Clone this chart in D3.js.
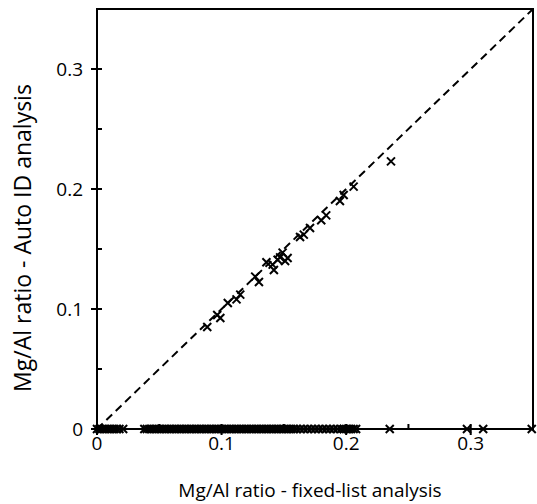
<!DOCTYPE html>
<html>
<head>
<meta charset="utf-8">
<script src="https://cdn.jsdelivr.net/npm/d3@7"></script>
<style>
  body { margin: 0; background: #fff; }
  text { font-family: "Open Sans", "DejaVu Sans", sans-serif; fill: #000; }
</style>
</head>
<body>
<div class="scatter"></div>
<script>
//Data
var diagX = [0.0885, 0.0965, 0.099, 0.105, 0.112, 0.115, 0.127, 0.130, 0.136, 0.141, 0.142, 0.145,
             0.147, 0.149, 0.151, 0.153, 0.163, 0.166, 0.171, 0.180, 0.184, 0.195, 0.198, 0.206, 0.236];
var diagY = [0.085, 0.095, 0.0925, 0.105, 0.108, 0.112, 0.127, 0.1225, 0.139, 0.137, 0.1325, 0.141,
             0.143, 0.147, 0.140, 0.1425, 0.160, 0.162, 0.1675, 0.174, 0.178, 0.190, 0.195, 0.202, 0.223];
var zeroX = [0, 0.002, 0.004, 0.006, 0.008, 0.01, 0.012, 0.014, 0.016, 0.018, 0.021,
             0.038, 0.040, 0.042, 0.044, 0.046, 0.048, 0.050, 0.052, 0.054, 0.056, 0.058, 0.060,
             0.062, 0.064, 0.066, 0.068, 0.070, 0.072, 0.074, 0.076, 0.078, 0.080, 0.082, 0.084,
             0.086, 0.088, 0.090, 0.092, 0.094, 0.096, 0.098, 0.100, 0.102, 0.104, 0.106, 0.108,
             0.110, 0.112, 0.114, 0.116, 0.118, 0.120, 0.122, 0.124, 0.126, 0.128, 0.130, 0.132,
             0.134, 0.136, 0.138, 0.140, 0.142, 0.144, 0.146, 0.148, 0.150, 0.152, 0.154, 0.156,
             0.158, 0.160, 0.163, 0.166, 0.169, 0.172, 0.175, 0.178, 0.181, 0.184, 0.187, 0.19,
             0.193, 0.196, 0.198, 0.200, 0.202, 0.204, 0.206, 0.208,
             0.235, 0.297, 0.31, 0.349];
var majorTicks = [0, 0.1, 0.2, 0.3];
var minorTicks = [0.05, 0.15, 0.25];

//Width and height
var w = 537;
var h = 504;
var margin = {left: 97, right: 4, top: 9, bottom: 75};

var svg = d3.select(".scatter")
    .append("svg")
    .attr("width", w)
    .attr("height", h);

var xScale = d3.scaleLinear()
    .domain([0, 0.35])
    .range([margin.left, w - margin.right]);

var yScale = d3.scaleLinear()
    .domain([0, 0.35])
    .range([h - margin.bottom, margin.top]);

var fmt = d3.format("");
var x0 = xScale(0), y0 = yScale(0);

//Frame
svg.append("rect")
    .attr("x", x0)
    .attr("y", yScale(0.35))
    .attr("width", xScale(0.35) - x0)
    .attr("height", y0 - yScale(0.35))
    .attr("fill", "none")
    .attr("stroke", "#000")
    .attr("stroke-width", 2);

//1:1 line
svg.append("line")
    .attr("x1", xScale(0)).attr("y1", yScale(0))
    .attr("x2", xScale(0.35)).attr("y2", yScale(0.35))
    .attr("stroke", "#000")
    .attr("stroke-width", 2)
    .attr("stroke-dasharray", "8,5");

//Ticks
svg.selectAll(".xmaj").data(majorTicks).enter().append("line")
    .attr("x1", d => xScale(d)).attr("x2", d => xScale(d))
    .attr("y1", y0 - 5).attr("y2", y0 + 6)
    .attr("stroke", "#000").attr("stroke-width", 2);
svg.selectAll(".xmin").data(minorTicks).enter().append("line")
    .attr("x1", d => xScale(d)).attr("x2", d => xScale(d))
    .attr("y1", y0 - 5).attr("y2", y0)
    .attr("stroke", "#000").attr("stroke-width", 2);
svg.selectAll(".ymaj").data(majorTicks).enter().append("line")
    .attr("y1", d => yScale(d)).attr("y2", d => yScale(d))
    .attr("x1", x0 - 6).attr("x2", x0 + 5)
    .attr("stroke", "#000").attr("stroke-width", 2);
svg.selectAll(".ymin").data(minorTicks).enter().append("line")
    .attr("y1", d => yScale(d)).attr("y2", d => yScale(d))
    .attr("x1", x0).attr("x2", x0 + 5)
    .attr("stroke", "#000").attr("stroke-width", 2);

//Tick labels
svg.selectAll(".xlab").data(majorTicks).enter().append("text")
    .attr("x", d => xScale(d))
    .attr("y", y0 + 21)
    .attr("text-anchor", "middle")
    .attr("font-size", 19)
    .text(d => fmt(d));
svg.selectAll(".ylab").data(majorTicks).enter().append("text")
    .attr("x", x0 - 14)
    .attr("y", d => yScale(d) + 7)
    .attr("text-anchor", "end")
    .attr("font-size", 19)
    .text(d => fmt(d));

//Markers
function cross(sel, px, py) {
    var s = 4;
    sel.append("path")
        .attr("d", "M" + (px - s) + "," + (py - s) + "L" + (px + s) + "," + (py + s) +
                   "M" + (px - s) + "," + (py + s) + "L" + (px + s) + "," + (py - s))
        .attr("stroke", "#000")
        .attr("stroke-width", 2)
        .attr("fill", "none");
}
var marks = svg.append("g");
diagX.forEach((d, i) => cross(marks, xScale(d), yScale(diagY[i])));
zeroX.forEach(d => cross(marks, xScale(d), yScale(0)));

//Axis titles
svg.append("text")
    .attr("x", 310)
    .attr("y", 497)
    .attr("text-anchor", "middle")
    .attr("font-size", 19)
    .text("Mg/Al ratio - fixed-list analysis");
svg.append("text")
    .attr("transform", "translate(31,238) rotate(-90)")
    .attr("text-anchor", "middle")
    .attr("font-size", 23)
    .text("Mg/Al ratio - Auto ID analysis");
</script>
</body>
</html>
